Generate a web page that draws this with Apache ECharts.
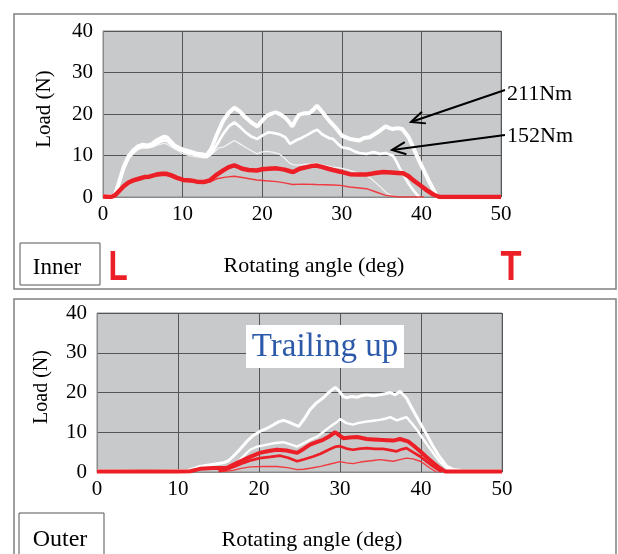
<!DOCTYPE html>
<html>
<head>
<meta charset="utf-8">
<script src="https://cdn.jsdelivr.net/npm/echarts@6/dist/echarts.min.js"></script>
<style>
html,body{margin:0;padding:0;background:#fff;}
#chart{width:618px;height:554px;}
</style>
</head>
<body>
<div id="chart"></div>
<script>
// ---------- data ----------
const xTicks = [0, 10, 20, 30, 40, 50];
const yTicks = [0, 10, 20, 30, 40];
const panelNames = ['Inner', 'Outer'];
const torqueLabels = ['211Nm', '152Nm'];
const xTitle = 'Rotating angle (deg)';
const yTitle = 'Load (N)';

// Inner (top panel) : [angle deg, load N]
const innerWhite211 = [[0,0.2],[1,0.1],[1.5,0.4],[2.6,7.2],[3.2,9.8],[3.8,11.2],[4.4,12.2],[5.0,12.6],[5.6,12.4],[6.2,12.8],[6.7,13.6],[7.1,14.0],[7.6,14.5],[8.0,14.4],[8.5,13.4],[9.0,12.4],[9.6,11.8],[10.1,11.4],[11.0,10.9],[11.8,10.4],[12.4,10.3],[13.0,10.0],[13.6,11.6],[14.3,15.0],[15.1,18.4],[15.8,20.3],[16.5,21.5],[17.2,20.6],[17.9,19.2],[18.6,18.0],[19.4,17.0],[20.0,18.4],[20.6,19.6],[21.2,20.1],[21.7,20.4],[22.3,19.9],[22.9,19.1],[23.4,18.0],[23.8,17.0],[24.2,18.6],[24.6,19.8],[25.3,20.2],[25.9,20.2],[26.4,21.0],[26.9,22.0],[27.5,20.6],[28.4,18.4],[29.2,16.8],[30.0,14.8],[31.0,14.0],[31.6,13.8],[32.2,13.6],[32.8,14.2],[33.5,14.4],[34.5,15.6],[35.5,17.0],[36.0,16.6],[36.4,16.4],[37.0,16.6],[37.6,16.4],[38.4,14.4],[39.0,11.8],[39.7,8.8],[40.3,6.4],[40.9,4.0],[41.5,1.8],[42.0,0.0]];
const innerWhite152 = [[0,0.1],[1.5,0.4],[2.6,6.8],[3.2,9.4],[3.8,10.8],[4.4,11.8],[5.0,12.2],[5.6,12.0],[6.2,12.3],[6.7,12.8],[7.1,13.2],[7.6,13.6],[8.0,13.6],[8.5,12.8],[9.0,12.0],[10.1,11.0],[11.0,10.4],[12.0,10.0],[13.0,9.6],[13.6,10.4],[14.3,12.6],[15.1,15.2],[15.8,17.0],[16.5,18.0],[17.2,16.9],[17.9,15.6],[18.6,14.6],[19.4,14.0],[20.1,14.9],[20.8,15.6],[21.5,15.4],[22.2,15.1],[22.9,14.4],[23.5,12.8],[24.2,13.6],[25.0,14.3],[25.9,15.2],[26.4,15.8],[26.9,16.2],[27.6,15.0],[28.4,14.2],[28.9,14.0],[29.5,12.8],[30.0,12.0],[31.0,11.6],[31.6,11.0],[32.2,10.6],[33.1,10.4],[34.0,10.8],[34.8,10.4],[35.5,10.6],[36.4,10.0],[36.8,8.8],[37.2,7.2],[37.8,5.2],[38.4,3.2],[39.0,1.6],[39.7,0.0]];
const innerWhiteLow = [[0,0.1],[1.5,0.3],[2.6,6.4],[3.2,9.0],[3.8,10.4],[4.4,11.4],[5.0,11.8],[5.6,11.8],[6.2,12.0],[6.7,12.4],[7.6,12.9],[8.0,12.8],[8.8,11.8],[10.1,10.4],[11.0,9.9],[12.0,9.6],[12.6,9.4],[13.2,9.8],[13.8,10.6],[14.5,11.8],[15.1,12.0],[15.8,12.8],[16.5,13.6],[17.2,12.8],[17.9,12.0],[18.6,11.2],[19.3,10.4],[19.9,10.8],[20.5,11.0],[21.3,10.8],[22.1,10.4],[22.8,9.4],[23.3,8.4],[23.8,7.8],[24.6,7.7],[25.5,7.9],[26.3,8.0],[26.8,8.2],[27.8,7.6],[28.9,7.2],[29.8,7.0],[31.0,6.4],[32.0,5.8],[33.1,5.2],[33.8,4.2],[34.4,3.2],[35.0,2.2],[35.5,1.2],[36.0,0.6],[36.7,0.0]];
const innerRedHigh = [[0,0.1],[1.0,0.0],[1.5,0.4],[2.0,1.4],[2.6,2.6],[3.2,3.5],[3.8,4.0],[4.5,4.4],[5.2,4.8],[5.8,4.9],[6.7,5.4],[7.4,5.6],[8.0,5.6],[8.6,5.2],[9.3,4.6],[10.1,4.1],[11.0,4.0],[11.8,3.7],[12.6,3.6],[13.4,4.0],[14.3,5.4],[15.1,6.4],[15.8,7.2],[16.5,7.6],[16.8,7.4],[17.5,6.8],[18.3,6.5],[19.3,6.4],[20.0,6.7],[20.8,6.8],[21.8,6.9],[22.8,6.6],[23.5,6.2],[23.9,6.0],[24.7,6.8],[25.6,7.2],[26.3,7.5],[26.8,7.6],[27.6,7.2],[28.3,6.8],[28.9,6.5],[29.8,6.1],[31.0,5.5],[32.0,5.4],[33.1,5.4],[34.0,5.7],[35.2,6.0],[36.2,5.9],[37.0,5.8],[37.7,5.7],[38.4,5.0],[39.0,4.0],[39.8,2.9],[40.7,1.6],[41.5,0.6],[42.3,0.0],[45,0.0],[48,0.0],[50,0.0]];
const innerRedLow = [[0,0.1],[1.5,0.3],[2.6,2.4],[3.8,3.8],[5.2,4.6],[6.7,5.1],[8.0,5.2],[9.3,4.4],[10.1,4.0],[11.8,3.5],[12.6,3.3],[13.4,3.6],[14.3,4.4],[15.4,4.8],[16.5,5.0],[17.5,4.7],[19.3,4.1],[20.5,3.9],[21.8,3.7],[22.8,3.4],[23.8,3.0],[25.0,3.1],[26.8,3.0],[28.9,2.9],[29.8,2.8],[31.0,2.4],[33.1,2.0],[34.3,1.2],[35.5,0.4],[37.2,0.0],[40.3,0.0]];

// Outer (bottom panel)
const outerWhiteHigh = [[0,0.3],[3,0.3],[6,0.2],[9,0.3],[11.1,0.3],[12.0,0.9],[12.7,1.4],[14.0,1.8],[15.6,2.3],[16.2,2.8],[16.8,3.9],[17.6,5.6],[18.5,7.7],[19.3,9.2],[20.1,10.2],[21.0,11.0],[21.8,11.9],[22.4,12.6],[23.0,13.0],[23.6,12.6],[24.3,12.0],[24.9,11.5],[25.6,13.4],[26.3,15.7],[27.1,17.4],[27.9,18.6],[28.6,20.0],[29.4,21.3],[29.8,20.6],[30.4,19.0],[30.8,18.7],[31.4,19.0],[32.1,18.8],[32.7,19.2],[33.3,19.4],[34.1,19.2],[34.9,19.4],[35.6,19.7],[36.2,20.0],[36.8,19.4],[37.4,20.3],[38.2,18.6],[39.0,15.6],[39.9,12.3],[40.7,9.4],[41.5,6.4],[42.3,3.8],[43.2,1.4],[44.0,0.6],[45,0.4],[47,0.3],[50,0.3]];
const outerWhiteMid = [[15.5,0.2],[16.8,1.4],[17.8,3.4],[18.9,5.6],[19.8,6.4],[21.0,6.9],[22.0,7.3],[23.0,7.5],[23.8,7.0],[24.7,6.4],[25.5,7.2],[26.4,8.2],[27.2,8.9],[28.0,10.2],[28.9,11.6],[29.7,12.7],[30.0,13.3],[30.8,12.3],[31.6,11.9],[32.4,12.4],[33.3,12.7],[34.1,12.9],[34.9,13.1],[35.6,13.4],[36.2,13.8],[37.0,13.0],[37.6,13.4],[38.2,13.8],[38.8,12.4],[39.5,10.6],[40.5,7.6],[41.5,4.8],[42.3,2.6],[43.2,1.0],[43.6,0.3]];
const outerRedHigh = [[0,0.1],[4,0.1],[8,0.1],[10,0.1],[11.5,0.2],[12.7,0.8],[14.3,1.0],[16.0,1.0],[16.8,1.8],[17.7,2.7],[18.9,3.8],[20.1,4.8],[21.2,5.3],[22.2,5.6],[23.4,5.4],[24.7,4.8],[25.5,5.8],[26.3,6.9],[27.1,7.5],[27.9,8.1],[28.7,9.0],[29.4,10.0],[29.8,9.4],[30.4,8.5],[31.2,8.7],[32.1,8.8],[33.3,8.3],[34.1,8.2],[34.9,8.1],[35.8,8.0],[36.6,7.9],[37.4,8.3],[38.4,7.7],[39.1,6.6],[39.9,5.2],[40.7,3.7],[41.5,2.3],[42.3,1.0],[43.0,0.1],[46,0.1],[50,0.1]];
const outerRedMid = [[15.0,0.2],[16.0,0.6],[17.0,1.4],[18.1,2.3],[19.1,3.0],[20.1,3.5],[21.4,3.8],[22.6,4.1],[23.6,3.6],[24.7,2.7],[25.6,3.2],[26.7,3.9],[27.6,4.6],[28.6,5.6],[29.5,6.4],[30.0,6.5],[30.8,5.9],[31.6,5.6],[32.5,5.9],[33.3,6.0],[34.3,5.8],[35.3,5.8],[36.2,5.5],[37.0,5.2],[37.6,5.7],[38.2,6.0],[39.0,5.0],[39.9,3.9],[40.7,2.6],[41.5,1.4],[42.5,0.0]];
const outerRedLow = [[15.5,0.1],[16.8,0.4],[17.8,0.9],[18.9,1.3],[20.5,1.4],[22.2,1.4],[23.5,1.1],[24.7,0.6],[25.5,0.7],[26.5,1.0],[27.6,1.4],[28.8,2.0],[30.0,2.6],[30.8,2.3],[31.6,2.1],[32.5,2.5],[33.3,2.7],[34.1,2.9],[34.9,3.1],[35.8,2.9],[36.6,2.7],[37.4,3.1],[38.2,3.5],[39.0,3.3],[39.9,2.7],[40.5,1.9],[41.1,1.0],[41.9,0.0]];

// ---------- chart ----------
const SERIF = '"Liberation Serif","Times New Roman",serif';
const RED = '#ec1f27';
const chart = echarts.init(document.getElementById('chart'), null, {renderer: 'canvas'});

function xAx(gi) {
  return {
    type: 'value', gridIndex: gi, min: xTicks[0], max: xTicks[xTicks.length-1], interval: xTicks[1]-xTicks[0],
    axisLine: {show: true, lineStyle: {color: '#8a8a8a', width: 1}},
    axisTick: {show: false},
    axisLabel: {color: '#000', fontFamily: SERIF, fontSize: 21, margin: 7},
    splitLine: {show: true, lineStyle: {color: '#555', width: 1}}
  };
}
function yAx(gi) {
  return {
    type: 'value', gridIndex: gi, min: yTicks[0], max: yTicks[yTicks.length-1], interval: yTicks[1]-yTicks[0],
    axisLine: {show: true, lineStyle: {color: '#8a8a8a', width: 1}},
    axisTick: {show: false},
    axisLabel: {color: '#000', fontFamily: SERIF, fontSize: 21, margin: 10},
    splitLine: {show: true, lineStyle: {color: '#555', width: 1}}
  };
}
function ln(data, gi, color, width, z) {
  return {type: 'line', xAxisIndex: gi, yAxisIndex: gi, data: data, showSymbol: false, symbol: 'none',
    lineStyle: {color: color, width: width}, z: z, silent: true, animation: false};
}

function arrow(x1, y1, x2, y2) {
  const a = Math.atan2(y1 - y2, x1 - x2);
  const L = 15, s = 0.42;
  const p1 = [x2 + L*Math.cos(a+s), y2 + L*Math.sin(a+s)];
  const p2 = [x2 + L*Math.cos(a-s), y2 + L*Math.sin(a-s)];
  return [
    {type: 'line', z: 100, shape: {x1: x1, y1: y1, x2: x2, y2: y2}, style: {stroke: '#000', lineWidth: 2}},
    {type: 'polyline', z: 100, shape: {points: [p1, [x2, y2], p2]}, style: {stroke: '#000', lineWidth: 2, fill: null}}
  ];
}

const graphics = [
  {type: 'rect', z: 1, shape: {x: 14, y: 14, width: 602, height: 275}, style: {fill: null, stroke: '#808080', lineWidth: 1.5}},
  {type: 'rect', z: 1, shape: {x: 14, y: 299, width: 602, height: 300}, style: {fill: null, stroke: '#808080', lineWidth: 1.5}},
  {type: 'rect', z: 100, shape: {x: 20, y: 243, width: 80, height: 42}, style: {fill: '#fff', stroke: '#555', lineWidth: 1}},
  {type: 'text', z: 101, x: 57, y: 268, style: {text: panelNames[0], font: '23px ' + SERIF, fill: '#000', textAlign: 'center', textVerticalAlign: 'middle'}},
  {type: 'text', z: 101, x: 118, y: 268, scaleX: 0.75, style: {text: 'L', font: 'bold 42px "Liberation Sans",Arial,sans-serif', fill: RED, textAlign: 'center', textVerticalAlign: 'middle'}},
  {type: 'text', z: 101, x: 511, y: 268, scaleX: 0.82, style: {text: 'T', font: 'bold 42px "Liberation Sans",Arial,sans-serif', fill: RED, textAlign: 'center', textVerticalAlign: 'middle'}},
  {type: 'text', z: 101, x: 314, y: 266, style: {text: xTitle, font: '22px ' + SERIF, fill: '#000', textAlign: 'center', textVerticalAlign: 'middle'}},
  {type: 'text', z: 101, x: 44, y: 109, rotation: Math.PI/2, style: {text: yTitle, font: '21px ' + SERIF, fill: '#000', textAlign: 'center', textVerticalAlign: 'middle'}},
  {type: 'rect', z: 100, shape: {x: 19, y: 513, width: 85, height: 60}, style: {fill: '#fff', stroke: '#555', lineWidth: 1}},
  {type: 'text', z: 101, x: 60, y: 540, style: {text: panelNames[1], font: '24px ' + SERIF, fill: '#000', textAlign: 'center', textVerticalAlign: 'middle'}},
  {type: 'text', z: 101, x: 312, y: 540, style: {text: xTitle, font: '22px ' + SERIF, fill: '#000', textAlign: 'center', textVerticalAlign: 'middle'}},
  {type: 'text', z: 101, x: 42, y: 387, rotation: Math.PI/2, style: {text: yTitle, font: '20px ' + SERIF, fill: '#000', textAlign: 'center', textVerticalAlign: 'middle'}},
  {type: 'text', z: 101, x: 507, y: 94, style: {text: torqueLabels[0], font: '22px ' + SERIF, fill: '#000', textAlign: 'left', textVerticalAlign: 'middle'}},
  {type: 'text', z: 101, x: 507, y: 136, style: {text: torqueLabels[1], font: '22px ' + SERIF, fill: '#000', textAlign: 'left', textVerticalAlign: 'middle'}},
  ...arrow(505, 90, 411, 122),
  ...arrow(505, 135, 392, 150),
  {type: 'rect', z: 100, shape: {x: 246, y: 325, width: 158, height: 43}, style: {fill: '#fff'}},
  {type: 'text', z: 101, x: 325, y: 347, style: {text: 'Trailing up', font: '33px ' + SERIF, fill: '#2c59a9', textAlign: 'center', textVerticalAlign: 'middle'}}
];

chart.setOption({
  animation: false,
  backgroundColor: '#fff',
  grid: [
    {left: 103, top: 31, width: 398, height: 166, show: true, backgroundColor: '#c8c9cb', borderColor: '#8a8a8a', borderWidth: 1},
    {left: 97, top: 313, width: 405, height: 159, show: true, backgroundColor: '#c8c9cb', borderColor: '#8a8a8a', borderWidth: 1}
  ],
  xAxis: [xAx(0), xAx(1)],
  yAxis: [yAx(0), yAx(1)],
  series: [
    ln(innerWhiteLow, 0, '#f4f4f4', 1.2, 3),
    ln(innerWhite152, 0, '#ffffff', 2.7, 4),
    ln(innerWhite211, 0, '#ffffff', 4, 5),
    ln(innerRedLow, 0, '#f03a3f', 1.4, 6),
    ln(innerRedHigh, 0, RED, 4.5, 7),
    ln(outerWhiteMid, 1, '#ffffff', 2.4, 4),
    ln(outerWhiteHigh, 1, '#ffffff', 3, 5),
    ln(outerRedLow, 1, '#f03a3f', 1.4, 6),
    ln(outerRedMid, 1, RED, 2.7, 7),
    ln(outerRedHigh, 1, RED, 4, 8)
  ],
  graphic: graphics
});
</script>
</body>
</html>
